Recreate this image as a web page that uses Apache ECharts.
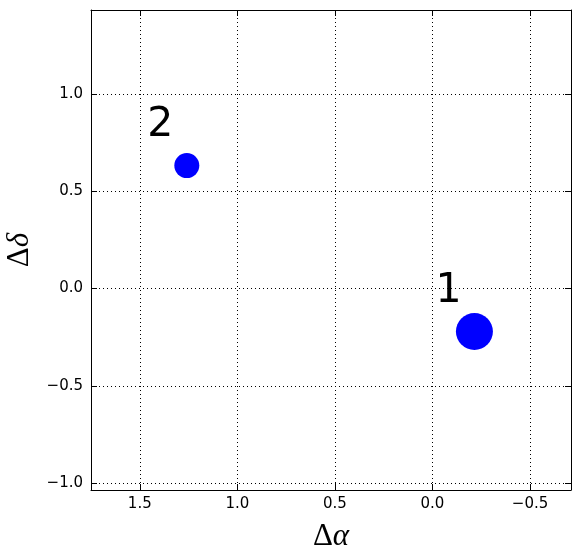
<!DOCTYPE html>
<html>
<head>
<meta charset="utf-8">
<script src="https://cdn.jsdelivr.net/npm/echarts@6/dist/echarts.min.js"></script>
<style>html,body{margin:0;padding:0;background:#fff}#c{width:580px;height:558px}</style>
</head>
<body>
<div id="c"></div>
<script>
// Data
const pointIds = ['1', '2'];
const deltaAlpha = [-0.215, 1.259];
const deltaDelta = [-0.221, 0.632];
const pointSizes = [37, 25];
const labelAlpha = [-0.082, 1.395];
const labelDelta = [0.003, 0.853];
const xTicks = [1.5, 1.0, 0.5, 0.0, -0.5];
const yTicks = [-1.0, -0.5, 0.0, 0.5, 1.0];
const xRange = [-0.71, 1.75];
const yRange = [-1.036, 1.432];

const fmt = v => Number(v).toFixed(1).replace('-', '\u2212');

const chart = echarts.init(document.getElementById('c'), null, {renderer: 'canvas'});

function axisBase(pos, isX, showLabel) {
  return {
    type: 'value',
    position: pos,
    min: isX ? xRange[0] : yRange[0],
    max: isX ? xRange[1] : yRange[1],
    inverse: isX,
    axisLine: {show: true, onZero: false, lineStyle: {color: '#000', width: 1}},
    axisTick: {show: true, inside: true, length: 6, lineStyle: {color: '#000'},
      customValues: isX ? xTicks : yTicks},
    axisLabel: {show: showLabel, customValues: isX ? xTicks : yTicks, formatter: fmt,
      color: '#000', fontFamily: 'DejaVu Sans', fontSize: 15, margin: isX ? 7 : 8},
    splitLine: {show: showLabel, lineStyle: {color: '#000', width: 1, type: [1, 3]}}
  };
}

const nameRich = {
  d: {fontFamily: 'Liberation Serif', fontSize: 31, color: '#000'},
  a: {fontFamily: 'Liberation Serif', fontStyle: 'italic', fontSize: 31, color: '#000'}
};

const xMain = axisBase('bottom', true, true);
xMain.name = '{d|\u0394}{a|\u03b1}';
xMain.nameLocation = 'middle';
xMain.nameGap = 31;
xMain.nameTextStyle = {rich: nameRich};
const xTop = axisBase('top', true, false);

const yMain = axisBase('left', false, true);
yMain.name = '{d|\u0394}{a|\u03b4}';
yMain.nameLocation = 'middle';
yMain.nameGap = 51;
yMain.nameTextStyle = {rich: nameRich};
const yRight = axisBase('right', false, false);

const pts = deltaAlpha.map((x, i) => ({value: [x, deltaDelta[i]], symbolSize: pointSizes[i]}));
const labs = labelAlpha.map((x, i) => ({value: [x, labelDelta[i]], name: pointIds[i]}));

chart.setOption({
  animation: false,
  backgroundColor: '#fff',
  grid: {left: 91, top: 10, width: 480, height: 480, containLabel: false, outerBoundsMode: 'none', show: false},
  xAxis: [xMain, xTop],
  yAxis: [yMain, yRight],
  series: [
    {type: 'scatter', xAxisIndex: 0, yAxisIndex: 0, data: pts,
     itemStyle: {color: '#0000ff', opacity: 1}, symbol: 'circle', z: 3},
    {type: 'scatter', xAxisIndex: 0, yAxisIndex: 0, data: labs, symbolSize: 0,
     itemStyle: {color: '#fff', opacity: 1},
     label: {show: true, position: 'inside', formatter: p => p.name, color: '#000', opacity: 1,
       textBorderWidth: 0,
       fontFamily: 'DejaVu Sans', fontSize: 41, align: 'center', verticalAlign: 'middle',
       offset: [0, 3]}, z: 4}
  ]
});
</script>
</body>
</html>
